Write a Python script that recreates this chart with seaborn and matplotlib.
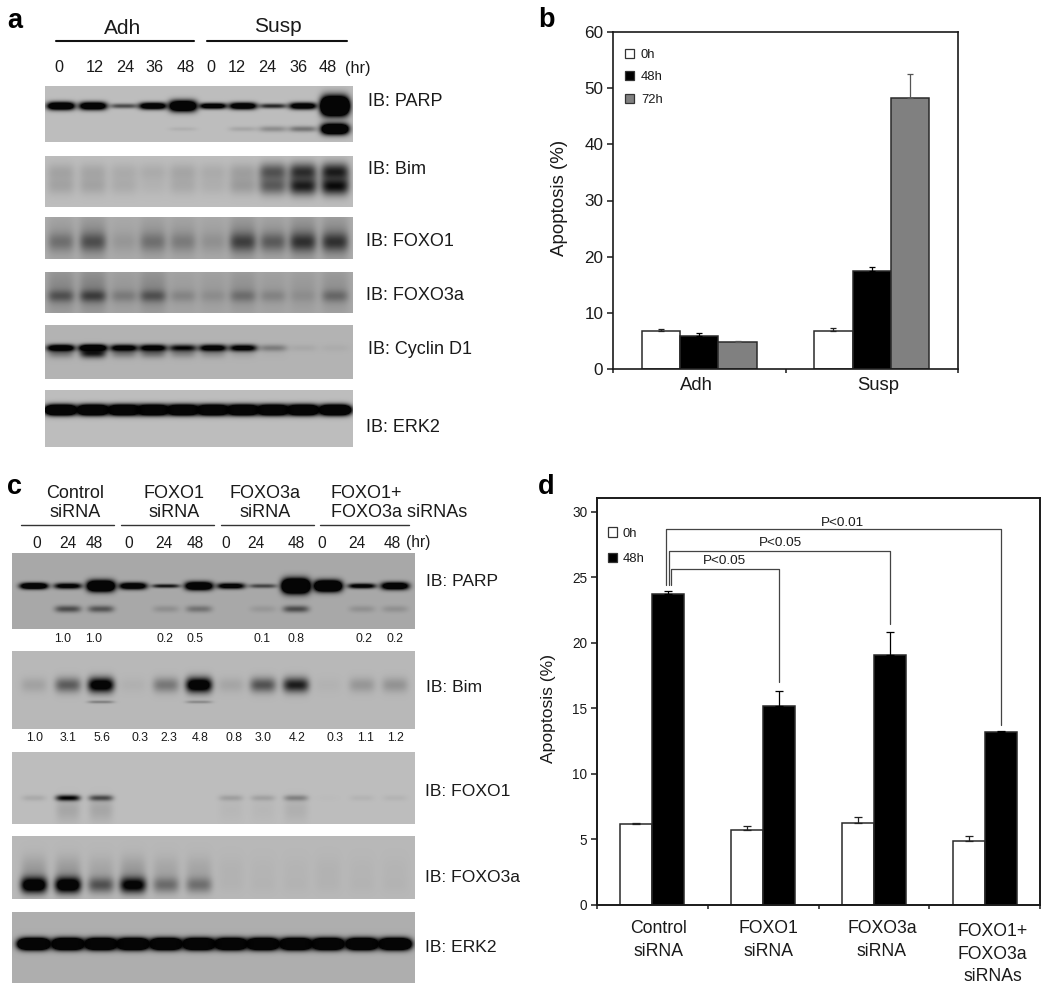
import numpy as np
import pandas as pd
import matplotlib
matplotlib.use("Agg")
import matplotlib.pyplot as plt
from matplotlib.patches import Patch
from matplotlib.transforms import ScaledTranslation
import seaborn as sns

W, H = 1050, 992
DPI = 100

# ---------- panel b data ----------
B_CONDS = ["Adh", "Susp"]
B_TIMES = ["0h", "48h", "72h"]
B_0H = [6.7, 6.7]
B_48H = [5.9, 17.5]
B_72H = [4.8, 48.3]
B_0H_ERR = [0.5, 0.6]
B_48H_ERR = [0.5, 0.7]
B_72H_ERR = [0.2, 4.2]

# ---------- panel d data ----------
D_CONDS = ["Control\nsiRNA", "FOXO1\nsiRNA", "FOXO3a\nsiRNA", "FOXO1+\nFOXO3a\nsiRNAs"]
D_TIMES = ["0h", "48h"]
D_0H = [6.15, 5.7, 6.25, 4.85]
D_48H = [23.7, 15.15, 19.1, 13.2]
D_0H_ERR = [0.08, 0.3, 0.5, 0.45]
D_48H_ERR = [0.25, 1.15, 1.7, 0.07]
D_P_LABELS = ["P<0.05", "P<0.05", "P<0.01"]
D_P_LEVELS = [25.65, 27.0, 28.7]
D_P_DROPS = [17.0, 21.4, 13.75]
D_P_START = 24.4

# ---------- panel a blot band intensities (one value per lane) ----------
A_TIMES = ["0", "12", "24", "36", "48", "0", "12", "24", "36", "48"]
A_PARP_MAIN = [1.7, 1.6, 0.6, 1.5, 1.9, 1.4, 1.5, 0.8, 1.4, 3.0]
A_PARP_MAIN_H = [4, 4, 2.5, 3.5, 5.5, 3, 3.5, 2.5, 3.5, 9]
A_PARP_LOW = [0, 0, 0, 0, 0.07, 0, 0.12, 0.25, 0.38, 2.0]
A_PARP_LOW_H = [2, 2, 2, 2, 2, 2, 2.5, 3, 3, 5.5]
A_BIM_UP = [0.13, 0.12, 0.09, 0.09, 0.12, 0.09, 0.15, 0.55, 0.75, 0.85]
A_BIM_LOW = [0.13, 0.13, 0.09, 0.05, 0.1, 0.07, 0.17, 0.5, 0.85, 0.95]
A_FOXO1 = [0.28, 0.45, 0.08, 0.26, 0.2, 0.1, 0.55, 0.4, 0.65, 0.65]
A_FOXO1_SMEAR = [0.12, 0.2, 0.06, 0.14, 0.12, 0.08, 0.22, 0.14, 0.24, 0.22]
A_FOXO3A = [0.42, 0.55, 0.2, 0.42, 0.16, 0.1, 0.26, 0.16, 0.08, 0.3]
A_FOXO3A_SMEAR = [0.2, 0.24, 0.1, 0.2, 0.07, 0.08, 0.14, 0.08, 0.1, 0.14]
A_CYCLIN = [1.5, 1.8, 1.3, 1.3, 1.0, 1.3, 1.2, 0.3, 0.06, 0.04]
A_CYCLIN_LOW = [0.35, 0.9, 0.35, 0.4, 0.28, 0.22, 0.1, 0.02, 0, 0]
A_ERK2 = [2.6, 2.6, 2.6, 2.6, 2.6, 2.6, 2.6, 2.6, 2.6, 2.6]

# ---------- panel c blot band intensities and numbers ----------
C_TIMES = ["0", "24", "48"] * 4
C_GROUPS = ["Control\nsiRNA", "FOXO1\nsiRNA", "FOXO3a\nsiRNA", "FOXO1+\nFOXO3a siRNAs"]
C_PARP_RATIOS = ["1.0", "1.0", "0.2", "0.5", "0.1", "0.8", "0.2", "0.2"]
C_BIM_RATIOS = ["1.0", "3.1", "5.6", "0.3", "2.3", "4.8", "0.8", "3.0", "4.2", "0.3", "1.1", "1.2"]
C_PARP_MAIN = [1.7, 1.2, 2.2, 1.5, 0.9, 1.8, 1.3, 0.6, 2.7, 2.3, 1.2, 1.6]
C_PARP_MAIN_H = [3.2, 3, 5.5, 3.5, 2, 4.2, 3, 2.2, 7, 5.5, 2.6, 3.8]
C_PARP_LOW = [0, 0.55, 0.5, 0, 0.15, 0.32, 0, 0.1, 0.55, 0, 0.14, 0.14]
C_BIM = [0.12, 0.5, 1.25, 0.04, 0.35, 1.35, 0.1, 0.55, 0.85, 0.03, 0.18, 0.2]
C_BIM_LOW = [0, 0, 0.3, 0, 0, 0.25, 0, 0, 0, 0, 0, 0]
C_FOXO1 = [0.1, 1.0, 0.6, 0, 0, 0, 0.15, 0.14, 0.3, 0.01, 0.05, 0.05]
C_FOXO1_SMEAR = [0, 0.12, 0.12, 0, 0, 0, 0.03, 0.03, 0.07, 0, 0, 0]
C_FOXO3A = [1.4, 1.4, 0.55, 1.15, 0.4, 0.38, 0.02, 0.02, 0.02, 0.02, 0.02, 0.02]
C_FOXO3A_SMEAR = [0.16, 0.16, 0.1, 0.16, 0.1, 0.1, 0.03, 0.02, 0.02, 0.03, 0.02, 0.02]
C_ERK2 = [2.8] * 12

# ---------- layout (pixels) ----------
A_LANES = [61, 93, 124, 153, 183, 213, 243, 273, 303, 335]
C_LANES = [34, 68, 101, 133, 166, 199, 231, 263, 296, 328, 362, 395]

sns.set_theme(style="white")
plt.rcParams["font.family"] = ["Liberation Sans", "DejaVu Sans"]
plt.rcParams["text.color"] = "#1a1a1a"
plt.rcParams["axes.labelcolor"] = "#1a1a1a"
plt.rcParams["xtick.color"] = "#1a1a1a"
plt.rcParams["ytick.color"] = "#1a1a1a"

fig = plt.figure(figsize=(W / DPI, H / DPI), dpi=DPI, facecolor="white")


def px_axes(x0, y0, x1, y1, **kw):
    return fig.add_axes([x0 / W, 1 - y1 / H, (x1 - x0) / W, (y1 - y0) / H], **kw)


def blot(box, lanes, bg, bands):
    """Draw a blot as a grey heatmap; bands = (centre y, half width, half height, lane values)."""
    x0, y0, x1, y1 = box
    xx, yy = np.meshgrid(np.arange(x0, x1) + 0.5, np.arange(y0, y1) + 0.5)
    light = np.ones_like(xx, dtype=float)
    for yc, hw, hh, vals in bands:
        hh = np.broadcast_to(hh, (len(lanes),))
        for lane, v, h in zip(lanes, vals, hh):
            shape = np.exp(-np.abs((xx - lane) / hw) ** 4) * np.exp(-((yy - yc) / h) ** 2)
            light *= 1 - np.minimum(0.97, v * shape)
    img = np.clip(bg * light, 0, 1)
    ax = px_axes(x0, y0, x1, y1)
    sns.heatmap(img, ax=ax, cmap="gray", vmin=0, vmax=1, cbar=False,
                xticklabels=False, yticklabels=False, rasterized=True)
    ax.set_axis_off()
    return ax


# ---------- blots, panel a ----------
blot((45, 86, 353, 142), A_LANES, 0.74, [
    (106, 14, A_PARP_MAIN_H, A_PARP_MAIN), (129, 14, A_PARP_LOW_H, A_PARP_LOW)])
blot((45, 156, 353, 207), A_LANES, 0.74, [
    (172, 14, 9, A_BIM_UP), (186, 14, 9, A_BIM_LOW)])
blot((45, 217, 353, 259), A_LANES, 0.68, [
    (238, 14, 24, A_FOXO1_SMEAR), (242, 13, 9, A_FOXO1)])
blot((45, 272, 353, 313), A_LANES, 0.66, [
    (290, 14, 24, A_FOXO3A_SMEAR), (296, 13, 6, A_FOXO3A)])
blot((45, 325, 353, 379), A_LANES, 0.70, [
    (348, 14, 3.5, A_CYCLIN), (353, 13, 5, A_CYCLIN_LOW)])
blot((45, 390, 353, 447), A_LANES, 0.74, [(410, 16, 5, A_ERK2)])

# ---------- blots, panel c ----------
blot((12, 553, 415, 629), C_LANES, 0.66, [
    (586, 14, C_PARP_MAIN_H, C_PARP_MAIN), (609, 13, 3.5, C_PARP_LOW)])
blot((12, 651, 415, 729), C_LANES, 0.72, [
    (685, 13, 7.5, C_BIM), (702, 13, 1.5, C_BIM_LOW)])
blot((12, 752, 415, 824), C_LANES, 0.74, [
    (810, 12, 12, C_FOXO1_SMEAR), (798, 12, 3, C_FOXO1)])
blot((12, 836, 415, 899), C_LANES, 0.72, [
    (870, 13, 14, C_FOXO3A_SMEAR), (885, 13, 8, C_FOXO3A)])
blot((12, 912, 415, 983), C_LANES, 0.68, [(944, 16, 5.5, C_ERK2)])


def bar_panel(box, df, conds, times, colors, errs, width, ylim, yticks,
              tick_fs, label_fs, xlabel_fs, cap, ylabel_xy, pads, offsets, spine_lw):
    ax = px_axes(*box)
    sns.barplot(data=df, x="cond", y="value", hue="time", order=conds, hue_order=times,
                palette=colors, width=width, gap=0, saturation=1, errorbar=None,
                legend=False, edgecolor="#2a2a2a", linewidth=1.1, ax=ax)
    for cont, err, col in zip(ax.containers, errs, ["#222222", "#000000", "#555555"]):
        xs = [p.get_x() + p.get_width() / 2 for p in cont]
        ys = [p.get_height() for p in cont]
        ax.errorbar(xs, ys, yerr=[np.zeros(len(err)), err], fmt="none", ecolor=col,
                    elinewidth=0.9, capsize=cap, capthick=0.9, zorder=1)
    n = len(conds)
    ax.set_xlim(-0.5, n - 0.5)
    ax.set_ylim(*ylim)
    ax.set_xticks(np.arange(n + 1) - 0.5)
    ax.set_xticklabels([])
    ax.set_xticks(np.arange(n), labels=conds, minor=True)
    ax.tick_params(axis="x", which="minor", length=0, pad=pads, labelsize=xlabel_fs)
    ax.tick_params(axis="x", which="major", length=3, width=1.1, bottom=True)
    ax.set_yticks(yticks)
    ax.tick_params(axis="y", length=4, width=1.1, left=True, labelsize=tick_fs, pad=3)
    for lab, (dx, dy) in zip(ax.get_xticklabels(minor=True), offsets):
        lab.set_linespacing(1.42)
        lab.set_transform(lab.get_transform() + ScaledTranslation(dx / DPI, -dy / DPI, fig.dpi_scale_trans))
    ax.set_xlabel("")
    ax.set_ylabel("Apoptosis (%)", fontsize=label_fs)
    ax.yaxis.set_label_coords(*ylabel_xy, transform=overlay_tr)
    for s in ax.spines.values():
        s.set_visible(True)
        s.set_color("#1a1a1a")
        s.set_linewidth(spine_lw)
    return ax


overlay = fig.add_axes([0, 0, 1, 1], zorder=5)
overlay.set_xlim(0, W)
overlay.set_ylim(H, 0)
overlay.set_axis_off()
overlay.patch.set_alpha(0)
overlay_tr = overlay.transData

# ---------- panel b ----------
df_b = pd.DataFrame({"cond": B_CONDS * 3,
                     "time": np.repeat(B_TIMES, len(B_CONDS)),
                     "value": B_0H + B_48H + B_72H})
ax_b = bar_panel((613, 32, 958, 369), df_b, B_CONDS, B_TIMES,
                 ["white", "black", "#808080"], [B_0H_ERR, B_48H_ERR, B_72H_ERR],
                 0.667, (0, 60), range(0, 61, 10), 12.3, 13.5, 13.3, 1.9,
                 (568, 198), 5.5, [(-3, 0), (6, 0)], 1.2)
ax_b.legend(handles=[Patch(facecolor=c, edgecolor="#333333", linewidth=0.9) for c in ["white", "black", "#808080"]],
            labels=B_TIMES, loc="upper left", bbox_to_anchor=(0.036, 0.95), frameon=False,
            fontsize=9.4, handlelength=0.68, handleheight=0.68, handletextpad=0.5,
            labelspacing=0.8, borderpad=0, borderaxespad=0)

# ---------- panel d ----------
df_d = pd.DataFrame({"cond": D_CONDS * 2,
                     "time": np.repeat(D_TIMES, len(D_CONDS)),
                     "value": D_0H + D_48H})
ax_d = bar_panel((597, 498, 1040, 905), df_d, D_CONDS, D_TIMES,
                 ["white", "black"], [D_0H_ERR, D_48H_ERR],
                 0.578, (0, 31.05), range(0, 31, 5), 9.8, 12.6, 12.7, 2.9,
                 (556, 708), 11, [(6, 0), (5, 0), (8, 0), (8, 3)], 1.4)
ax_d.legend(handles=[Patch(facecolor=c, edgecolor="#333333", linewidth=0.9) for c in ["white", "black"]],
            labels=D_TIMES, loc="upper left", bbox_to_anchor=(0.024, 0.928), frameon=False,
            fontsize=9.4, handlelength=0.72, handleheight=0.72, handletextpad=0.4,
            labelspacing=1.02, borderpad=0, borderaxespad=0)

ctrl = ax_d.containers[1][0]
ctrl_x = ctrl.get_x() + ctrl.get_width() / 2
leg_off = [0.027, 0.01, -0.017]  # legs at the control bar, right to left
p_text_px = [(725, 561), (780, 543), (842, 523)]
for i, (lab, lvl, drop) in enumerate(zip(D_P_LABELS, D_P_LEVELS, D_P_DROPS)):
    target = ax_d.containers[1][i + 1]
    tx = target.get_x() + target.get_width() / 2
    lx = ctrl_x + leg_off[i]
    ax_d.plot([lx, lx, tx, tx], [D_P_START, lvl, lvl, drop], color="#444444", lw=0.9, zorder=4)
    overlay.text(*p_text_px[i], lab, fontsize=9.7, ha="center", va="center")

# ---------- text and rules on the page ----------
for s, x, y in [("a", 15, 21), ("b", 546, 20), ("c", 15, 487), ("d", 546, 487)]:
    overlay.text(x, y, s, fontsize=19.5, fontweight="bold", ha="center", va="center", color="black")


def t(x, y, s, fs, ha="center"):
    overlay.text(x, y, s, fontsize=fs, ha=ha, va="center")


t(123, 28, "Adh", 15)
t(278, 27, "Susp", 15)
overlay.plot([56, 194], [41, 41], color="#111111", lw=1.5)
overlay.plot([207, 347], [41, 41], color="#111111", lw=1.5)
for x, s in zip([59, 95, 125, 155, 186, 211, 237, 267, 298, 328], A_TIMES):
    t(x, 68, s, 11.7)
t(358, 68, "(hr)", 11.7)

for x, y, s in [(368, 102, "IB: PARP"), (368, 169, "IB: Bim"), (366, 241, "IB: FOXO1"),
                (366, 296, "IB: FOXO3a"), (368, 350, "IB: Cyclin D1"), (366, 427, "IB: ERK2")]:
    t(x, y, s, 13, ha="left")

for (x, y), s in zip([(75, 503), (174, 503), (265, 503), (331, 503)], C_GROUPS):
    overlay.text(x, y, s, fontsize=13, ha="center" if x < 300 else "left", va="center",
                 linespacing=1.1, multialignment="center" if x < 300 else "left")
for x0, x1 in [(21, 114), (121, 214), (221, 314), (320, 409)]:
    overlay.plot([x0, x1], [525, 525], color="#333333", lw=1)
for x, s in zip([37, 68, 94, 129, 164, 195, 226, 256, 296, 322, 357, 392], C_TIMES):
    t(x, 543, s, 11.2)
t(418, 543, "(hr)", 11.2)
for x, s in zip([63, 94, 165, 195, 262, 296, 364, 395], C_PARP_RATIOS):
    t(x, 639, s, 8.8)
for x, s in zip([35, 68, 102, 140, 169, 200, 234, 263, 297, 335, 366, 396], C_BIM_RATIOS):
    t(x, 738, s, 8.8)
for x, y, s in [(426, 582, "IB: PARP"), (426, 687, "IB: Bim"), (425, 792, "IB: FOXO1"),
                (425, 877, "IB: FOXO3a"), (425, 948, "IB: ERK2")]:
    t(x, y, s, 12.6, ha="left")

fig.savefig("out.png", dpi=DPI, facecolor="white")
